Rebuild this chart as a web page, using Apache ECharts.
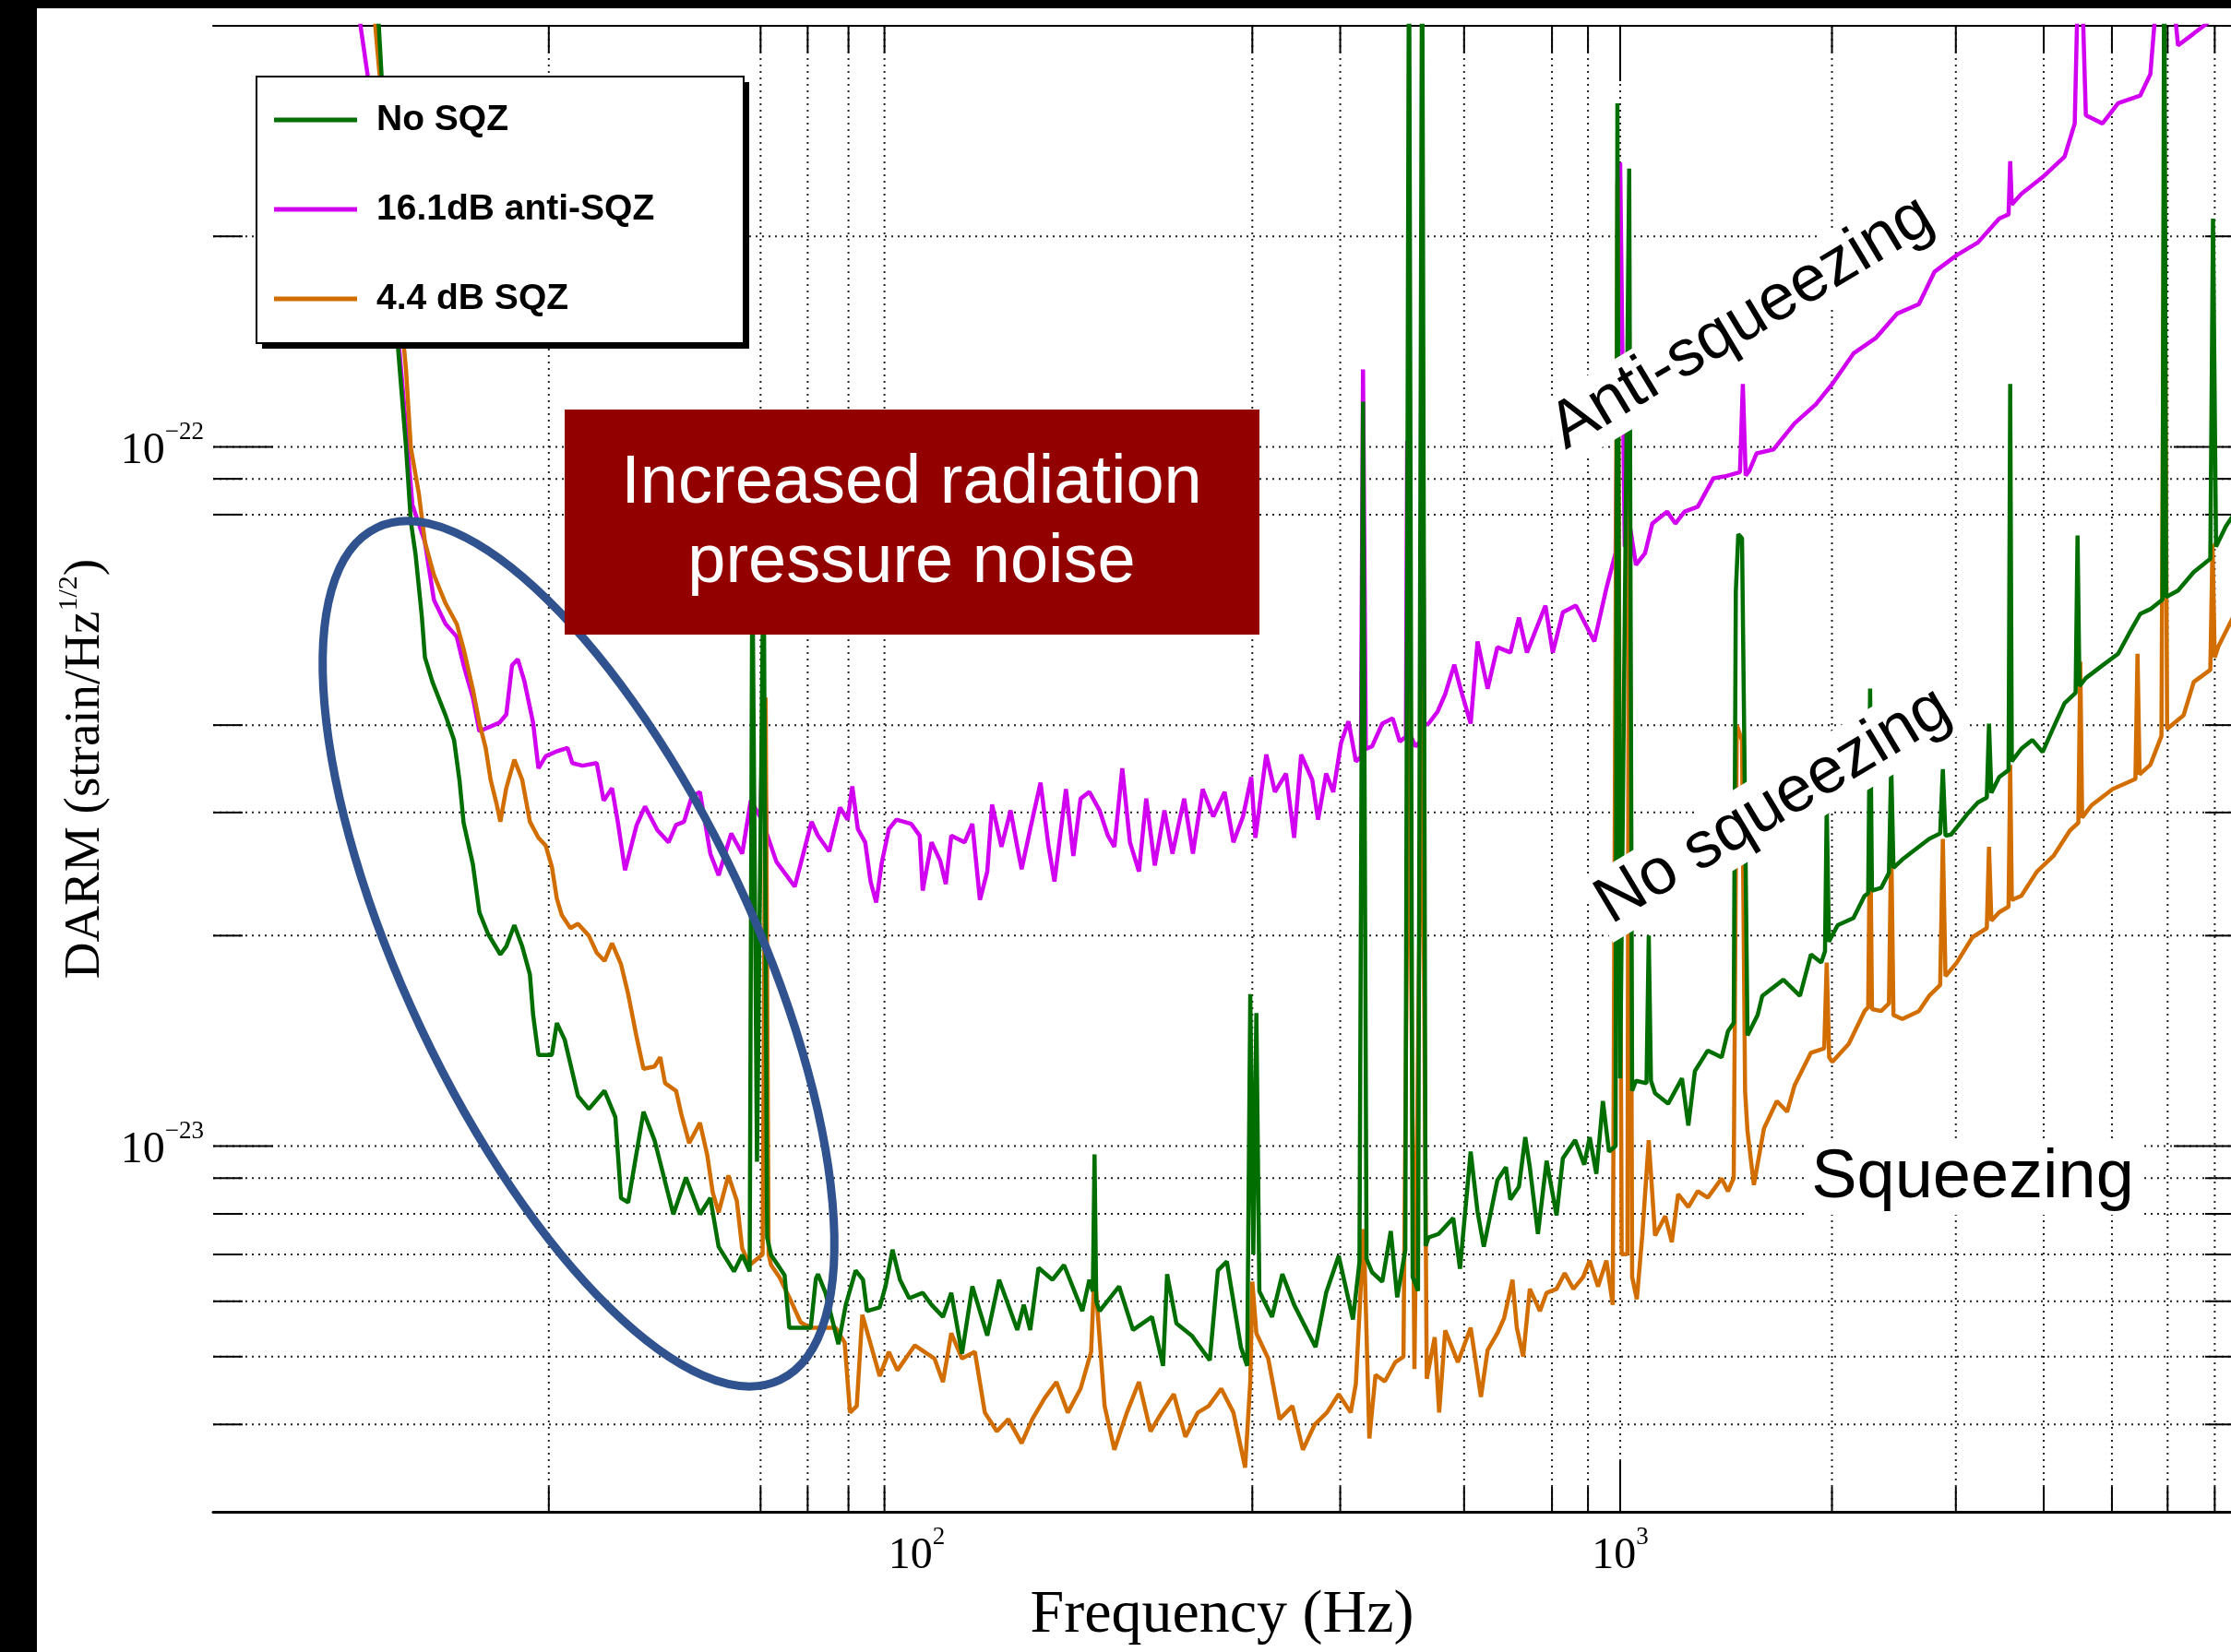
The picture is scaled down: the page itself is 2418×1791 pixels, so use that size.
<!DOCTYPE html>
<html lang="en">
<head>
<meta charset="UTF-8">
<title>DARM noise with and without squeezing</title>
<script src="https://cdn.jsdelivr.net/npm/echarts@6/dist/echarts.min.js"></script>
<style>
    html, body { margin: 0; padding: 0; background: #fff; }
    #main { width: 2418px; height: 1791px; }
</style>
</head>
<body>
<div id="main"></div>
<script>
    // strain ASD in units of 1e-24 /rtHz, frequency in Hz
    var noSqz = [
        [16.7, 500], [17.2, 400], [17.7, 237], [18.3, 140], [18.8, 100], [19.1, 78.2], [19.4, 70.1], [19.8, 57.2],
        [20.0, 50.0], [20.5, 46.1], [21.4, 41.3], [22.0, 38.1], [22.4, 33.3], [22.7, 29.0], [23.4, 25.3], [23.9, 21.6],
        [24.6, 20.1], [25.6, 18.8], [26.1, 19.3], [26.8, 20.7], [27.5, 19.3], [28.2, 17.6], [28.5, 15.4], [29.0, 13.5],
        [30.3, 13.5], [30.8, 15.0], [31.6, 14.2], [33.0, 11.8], [34.2, 11.3], [36.0, 12.0], [37.3, 11.0], [38.0, 8.43],
        [38.9, 8.31], [40.9, 11.2], [42.4, 10.2], [45.1, 7.99], [47.0, 9.02], [49.2, 7.99], [50.9, 8.43], [52.3, 7.18],
        [55.0, 6.62], [56.5, 6.99], [57.9, 6.62], [58.4, 70], [59.3, 9.5], [60.6, 72], [61.3, 7.4], [62.1, 6.99],
        [64.9, 6.54], [65.9, 5.50], [70.7, 5.50], [71.9, 6.46], [72.4, 6.56], [74.2, 6.17], [77.4, 5.21], [79.3, 5.93],
        [81.9, 6.64], [83.9, 6.44], [85.0, 5.81], [88.6, 5.88], [90.3, 6.30], [92.4, 7.11], [94.7, 6.44], [97.6, 6.06],
        [102, 6.17], [105, 5.93], [109, 5.70], [112, 6.17], [116, 5.05], [120, 6.30], [126, 5.36], [131, 6.44],
        [139, 5.46], [142, 5.93], [145, 5.46], [149, 6.70], [156, 6.44], [162, 6.76], [172, 5.81], [176, 6.44],
        [178, 6.2], [179, 9.73], [180, 6.0], [182, 5.81], [194, 6.30], [203, 5.46], [216, 5.70], [224, 4.85],
        [227, 6.56], [234, 5.58], [246, 5.36], [261, 4.94], [268, 6.64], [276, 6.84], [289, 5.16], [295, 4.85],
        [298, 16.5], [301, 7.0], [304, 15.5], [307, 6.2], [320, 5.70], [331, 6.56], [344, 5.93], [369, 5.16],
        [382, 6.17], [398, 6.97], [417, 5.65], [426, 6.82], [431, 116], [436, 6.9], [444, 6.60], [459, 6.40],
        [472, 7.56], [482, 6.08], [495, 7.10], [501, 600], [507, 6.5], [516, 6.21], [523, 600], [529, 7.2],
        [534, 7.40], [552, 7.49], [579, 7.89], [592, 6.68], [613, 9.82], [627, 8.06], [640, 7.18], [669, 8.94],
        [688, 9.33], [698, 8.39], [718, 8.75], [733, 10.3], [744, 9.33], [764, 7.49], [786, 9.53], [812, 7.96],
        [829, 9.61], [863, 10.2], [889, 9.41], [905, 10.3], [925, 9.13], [945, 11.6], [964, 9.82], [985, 10.0],
        [991, 310], [1000, 12.5], [1030, 250], [1040, 12.0], [1053, 12.4], [1090, 12.3], [1098, 20], [1106, 12.4],
        [1121, 11.9], [1170, 11.5], [1224, 12.5], [1250, 10.7], [1277, 12.8], [1332, 13.7], [1394, 13.4], [1423, 14.6],
        [1450, 15.0], [1460, 62], [1472, 75], [1490, 74], [1505, 30], [1517, 14.4], [1568, 15.4], [1592, 16.4],
        [1706, 17.3], [1801, 16.4], [1867, 18.8], [1931, 18.3], [1955, 19.0], [1966, 30.7], [1980, 19.6], [2038, 20.7],
        [2146, 21.2], [2225, 22.8], [2252, 23.0], [2266, 45.1], [2280, 23.2], [2349, 23.4], [2410, 24.6], [2428, 35.1],
        [2446, 25.0], [2518, 25.7], [2658, 26.8], [2749, 27.5], [2850, 28.0], [2875, 34.6], [2900, 27.8], [2954, 27.9],
        [3111, 29.8], [3225, 31.0], [3320, 31.5], [3344, 40.2], [3370, 32.0], [3457, 33.7], [3565, 34.5], [3584, 123],
        [3603, 35.5], [3717, 37.0], [3853, 38.1], [3985, 36.6], [4130, 39.7], [4282, 43.0], [4440, 44.5], [4468, 74.7],
        [4496, 45.5], [4591, 46.7], [4848, 48.7], [5103, 50.6], [5290, 54.1], [5486, 57.7], [5670, 58.6], [5900, 60.5],
        [5934, 600], [5970, 61.0], [6208, 62.3], [6535, 66.2], [6900, 69.2], [6961, 212], [7030, 72.0], [7261, 77.0],
        [7643, 83.1]
    ];

    var antiSqz = [
        [15.7, 590], [16.2, 400], [17.7, 216], [18.6, 121], [19.2, 82.6], [20.0, 73.1], [20.6, 60.4], [21.4, 55.8],
        [22.2, 53.5], [22.7, 48.7], [23.4, 43.8], [23.9, 39.2], [25.5, 40.3], [26.1, 41.4], [26.6, 48.7], [27.1, 49.7],
        [27.7, 46.2], [28.5, 40.3], [29.0, 34.7], [29.7, 36.1], [30.8, 36.7], [31.9, 37.1], [32.4, 35.3], [33.5, 35.0],
        [35.1, 35.3], [35.9, 31.2], [36.9, 32.5], [37.6, 29.1], [38.5, 24.8], [40.0, 28.8], [41.1, 30.6], [42.8, 28.3],
        [44.4, 27.2], [45.5, 28.8], [46.7, 29.1], [47.9, 31.6], [49.2, 32.1], [50.9, 26.2], [52.3, 24.4], [54.5, 28.0],
        [56.5, 26.2], [58.1, 31.2], [60.0, 29.5], [60.5, 44.3], [61.2, 28.0], [63.2, 25.5], [67.1, 23.5], [70.9, 29.1],
        [72.4, 27.8], [75.1, 26.4], [77.8, 30.5], [79.8, 29.3], [81.0, 32.7], [82.5, 28.4], [84.5, 27.2], [86.0, 23.9],
        [87.6, 22.3], [89.2, 25.4], [91.3, 28.4], [93.6, 29.3], [98.2, 28.9], [101, 27.8], [102, 23.2], [105, 27.2],
        [108, 25.6], [110, 23.7], [112, 27.8], [117, 27.2], [120, 28.9], [123, 22.5], [126, 24.7], [128, 30.8],
        [132, 26.8], [136, 30.2], [139, 26.8], [141, 24.9], [145, 28.4], [150, 33.1], [154, 26.8], [157, 23.9],
        [163, 32.4], [167, 26.0], [171, 31.4], [176, 32.1], [182, 30.2], [187, 27.8], [191, 26.8], [196, 34.7],
        [201, 27.2], [207, 24.7], [212, 31.4], [218, 25.2], [225, 30.2], [231, 26.2], [240, 31.4], [247, 26.2],
        [255, 32.4], [264, 29.6], [274, 32.1], [282, 27.2], [291, 29.6], [299, 33.7], [303, 27.6], [314, 36.3],
        [323, 32.1], [335, 34.1], [344, 27.6], [352, 36.3], [365, 33.4], [372, 29.3], [382, 34.1], [391, 32.1],
        [401, 37.7], [411, 40.5], [421, 35.5], [428, 36.0], [431, 129], [435, 37.0], [444, 37.3], [459, 40.2],
        [475, 40.9], [486, 37.9], [496, 38.5], [498, 102], [501, 39.0], [512, 37.3], [521, 38.0], [524, 103],
        [527, 40.0], [534, 40.2], [550, 41.8], [564, 44.3], [581, 48.8], [593, 45.1], [613, 40.2], [627, 52.7],
        [648, 45.1], [669, 51.7], [698, 50.8], [718, 57.0], [737, 50.8], [783, 59.3], [802, 50.8], [829, 58.0],
        [865, 59.3], [919, 52.7], [956, 62.8], [985, 70.5], [1000, 255], [1015, 72.0], [1031, 77.7], [1053, 67.8],
        [1085, 70.5], [1111, 77.7], [1166, 80.8], [1198, 77.7], [1235, 80.8], [1289, 82.1], [1357, 90.2], [1407, 90.7],
        [1480, 92.0], [1494, 123], [1508, 91.0], [1526, 92.4], [1563, 97.9], [1651, 99.1], [1769, 108], [1897, 115],
        [2002, 123], [2146, 136], [2307, 143], [2474, 155], [2658, 160], [2798, 178], [3009, 188], [3225, 196],
        [3457, 212], [3565, 215], [3584, 256], [3603, 222], [3717, 230], [3985, 243], [4282, 260], [4427, 290],
        [4500, 600], [4591, 298], [4848, 290], [5103, 310], [5486, 318], [5670, 341], [5934, 600], [6208, 375],
        [6535, 390], [6775, 401], [7195, 422], [7600, 450]
    ];

    var sqz = [
        [16.5, 589], [17.0, 400], [17.8, 237], [18.8, 129], [19.1, 99.7], [19.6, 85.9], [20.0, 73.1], [20.6, 65.6],
        [21.4, 59.7], [22.2, 55.8], [22.7, 51.4], [23.4, 45.0], [23.9, 40.3], [24.4, 37.1], [24.8, 33.4], [25.3, 30.8],
        [25.6, 29.1], [26.1, 32.5], [26.8, 35.7], [27.5, 33.4], [28.2, 29.1], [29.0, 27.6], [29.7, 26.9], [30.3, 25.1],
        [30.8, 22.6], [31.3, 21.4], [32.2, 20.5], [33.0, 20.8], [34.2, 20.0], [35.1, 18.9], [36.0, 18.4], [36.9, 19.5],
        [38.0, 18.2], [38.9, 16.5], [40.0, 14.3], [40.9, 12.9], [42.4, 13.0], [43.2, 13.4], [43.9, 12.3], [45.5, 12.0],
        [46.3, 11.1], [47.5, 10.1], [49.2, 10.8], [50.4, 9.70], [51.3, 8.59], [52.3, 8.04], [54.0, 9.08], [55.5, 8.36],
        [56.5, 7.14], [57.9, 6.76], [60.4, 7.0], [61.0, 43.8], [61.6, 7.0], [62.1, 6.76], [63.8, 6.50], [65.9, 6.08],
        [68.4, 5.60], [70.5, 5.50], [76.7, 5.50], [79.0, 5.24], [80.4, 4.16], [82.2, 4.25], [83.7, 5.74], [88.6, 4.69],
        [91.3, 5.08], [93.9, 4.78], [99.4, 5.19], [106, 4.97], [109, 4.60], [112, 5.40], [116, 4.97], [121, 5.08],
        [125, 4.16], [130, 3.91], [135, 4.07], [141, 3.76], [146, 4.07], [152, 4.36], [158, 4.60], [164, 4.16],
        [171, 4.50], [177, 5.08], [179, 6.64], [185, 4.25], [191, 3.68], [199, 4.16], [207, 4.60], [215, 3.91],
        [223, 4.16], [232, 4.42], [241, 3.84], [251, 4.16], [260, 4.25], [271, 4.50], [282, 4.16], [293, 3.47],
        [298, 4.60], [300, 6.40], [304, 5.40], [316, 4.97], [328, 4.07], [342, 4.25], [354, 3.68], [368, 4.00],
        [383, 4.16], [398, 4.42], [414, 4.16], [421, 4.57], [432, 7.61], [440, 3.82], [449, 4.71], [463, 4.61],
        [479, 4.91], [492, 5.00], [501, 45], [510, 4.80], [523, 45], [531, 4.65], [545, 5.33], [553, 4.16],
        [564, 5.45], [588, 4.91], [613, 5.50], [634, 4.38], [648, 5.11], [669, 5.40], [684, 5.68], [703, 6.44],
        [713, 5.50], [728, 5.00], [744, 6.25], [769, 5.81], [786, 6.17], [812, 6.25], [834, 6.58], [858, 6.25],
        [886, 6.50], [905, 6.86], [930, 6.30], [956, 6.86], [976, 5.93], [991, 240], [1005, 7.00], [1024, 7.01],
        [1030, 150], [1040, 6.50], [1056, 6.04], [1075, 7.45], [1098, 10.2], [1121, 7.45], [1159, 7.94], [1184, 7.29],
        [1209, 8.54], [1250, 8.18], [1289, 8.62], [1332, 8.44], [1394, 8.99], [1423, 8.62], [1450, 9.00], [1465, 40],
        [1490, 38], [1505, 12], [1517, 10.5], [1549, 8.80], [1601, 10.6], [1670, 11.6], [1727, 11.2], [1769, 12.2],
        [1867, 13.6], [1950, 13.8], [1966, 18.3], [1982, 13.4], [2002, 13.2], [2113, 14.0], [2225, 15.6], [2252, 15.8],
        [2266, 30.2], [2280, 15.7], [2349, 15.6], [2410, 16.0], [2428, 27.5], [2446, 15.4], [2518, 15.2], [2658, 15.6],
        [2749, 16.4], [2850, 17.0], [2875, 27.5], [2900, 17.5], [3009, 18.3], [3168, 19.9], [3320, 20.5], [3344, 26.8],
        [3370, 21.0], [3457, 21.6], [3565, 22.0], [3584, 35.1], [3603, 22.5], [3717, 22.8], [3912, 24.7], [4130, 26.0],
        [4361, 28.3], [4480, 29.0], [4508, 49.3], [4536, 29.5], [4674, 30.7], [5011, 32.4], [5400, 33.5], [5437, 50.6],
        [5474, 34.0], [5670, 35.1], [5880, 38.6], [5934, 300], [5990, 39.5], [6321, 41.3], [6535, 46.1], [6900, 48.0],
        [6950, 72.7], [7000, 50.0], [7088, 51.9], [7530, 58.6]
    ];

    // grid lines that survive in the picture (Hz, and 1e-24 units)
    var xGridHz = [30, 60, 70, 80, 90, 300, 400, 600, 800, 900, 1000, 2000, 3000, 4000, 5000, 6000, 7000];
    var yGridVals = [200, 100, 90, 80, 40, 30, 20, 10, 9, 8, 7, 6, 5, 4];
    var xMajor = [1000];
    var yMajor = [100, 10];

    var serif = '"Liberation Serif", "DejaVu Serif", serif';
    var sans = '"Liberation Sans", Arial, sans-serif';

    function expOf(v) {
        var e = Math.log10(v);
        var r = Math.round(e);
        return Math.abs(e - r) < 1e-6 ? r : null;
    }

    var tickRich = {
        m: { fontSize: 48, fontFamily: serif, color: '#000', lineHeight: 58, verticalAlign: 'bottom' },
        s: { fontSize: 27, fontFamily: serif, color: '#000', lineHeight: 27, verticalAlign: 'top' }
    };

    function vGrid(params, api) {
        var cs = params.coordSys;
        var x = api.coord([api.value(0), api.value(1)])[0];
        var big = api.value(2) === 1;
        var bot = cs.y + cs.height;
        return {
            type: 'group',
            children: [
                { type: 'line', shape: { x1: x, y1: cs.y, x2: x, y2: bot },
                  style: { stroke: '#222', lineWidth: 2, lineDash: [2, 5] } },
                { type: 'line', shape: { x1: x, y1: bot, x2: x, y2: bot - (big ? 55 : 27) },
                  style: { stroke: '#000', lineWidth: 2 } },
                { type: 'line', shape: { x1: x, y1: cs.y, x2: x, y2: cs.y + (big ? 60 : 29) },
                  style: { stroke: '#000', lineWidth: 2 } }
            ]
        };
    }

    function hGrid(params, api) {
        var cs = params.coordSys;
        var y = api.coord([api.value(0), api.value(1)])[1];
        var big = api.value(2) === 1;
        var right = cs.x + cs.width;
        return {
            type: 'group',
            children: [
                { type: 'line', shape: { x1: cs.x, y1: y, x2: right, y2: y },
                  style: { stroke: '#222', lineWidth: 2, lineDash: [2, 5] } },
                { type: 'line', shape: { x1: cs.x, y1: y, x2: cs.x + (big ? 65 : 32), y2: y },
                  style: { stroke: '#000', lineWidth: 2 } },
                { type: 'line', shape: { x1: right, y1: y, x2: right - (big ? 62 : 28), y2: y },
                  style: { stroke: '#000', lineWidth: 2 } }
            ]
        };
    }

    var chart = echarts.init(document.getElementById('main'), null, { renderer: 'canvas' });

    var option = {
        animation: false,
        backgroundColor: '#fff',
        grid: { left: 231, top: 28, right: 0, bottom: 152, outerBoundsMode: 'none' },
        legend: {
            data: ['No SQZ', '16.1dB anti-SQZ', '4.4 dB SQZ'],
            orient: 'vertical',
            left: 297,
            top: 110,
            padding: 0,
            itemGap: 57,
            itemWidth: 90,
            itemHeight: 5,
            icon: 'rect',
            selectedMode: false,
            z: 200,
            textStyle: {
                fontSize: 39, fontWeight: 'bold', fontFamily: sans, color: '#000',
                lineHeight: 40, padding: [0, 0, 0, 16]
            }
        },
        xAxis: [{
            type: 'log', logBase: 10, min: 10, max: 7383, position: 'bottom',
            axisLine: { show: true, onZero: false, lineStyle: { color: '#000', width: 3 } },
            axisTick: { show: false },
            splitLine: { show: false },
            axisLabel: {
                margin: 14,
                rich: tickRich,
                formatter: function (v) {
                    var r = expOf(v);
                    return r !== null && r >= 2 ? '{m|10}{s|' + r + '}' : '';
                }
            },
            name: 'Frequency (Hz)',
            nameLocation: 'middle',
            nameGap: 80,
            nameTextStyle: { fontSize: 66, fontFamily: serif, color: '#000' }
        }, {
            type: 'log', logBase: 10, min: 10, max: 7383, position: 'top',
            axisLine: { show: true, onZero: false, lineStyle: { color: '#000', width: 2 } },
            axisTick: { show: false },
            axisLabel: { show: false },
            splitLine: { show: false }
        }],
        yAxis: [{
            type: 'log', logBase: 10, min: 3, max: 400,
            axisLine: { show: false },
            axisTick: { show: false },
            splitLine: { show: false },
            axisLabel: {
                margin: 10,
                rich: tickRich,
                formatter: function (v) {
                    var r = expOf(v);
                    return r !== null ? '{m|10}{s|\u2212' + (24 - r) + '}' : '';
                }
            },
            name: '{n|DARM (strain/Hz}{s|1/2}{n|)}',
            nameLocation: 'middle',
            nameRotate: 90,
            nameGap: 109,
            nameTextStyle: {
                rich: {
                    n: { fontSize: 55, fontFamily: serif, color: '#000', lineHeight: 60, verticalAlign: 'bottom' },
                    s: { fontSize: 30, fontFamily: serif, color: '#000', lineHeight: 30, verticalAlign: 'top' }
                }
            }
        }],
        series: [
            {
                type: 'custom', name: 'xgrid', z: 1, silent: true,
                renderItem: vGrid,
                data: xGridHz.map(function (f) { return [f, 10, xMajor.indexOf(f) >= 0 ? 1 : 0]; })
            },
            {
                type: 'custom', name: 'ygrid', z: 1, silent: true,
                renderItem: hGrid,
                data: yGridVals.map(function (v) { return [100, v, yMajor.indexOf(v) >= 0 ? 1 : 0]; })
            },
            {
                name: '16.1dB anti-SQZ', type: 'line', data: antiSqz, symbol: 'none', z: 2,
                color: '#d200f0', lineStyle: { color: '#d200f0', width: 4.5 }
            },
            {
                name: '4.4 dB SQZ', type: 'line', data: sqz, symbol: 'none', z: 2,
                color: '#d26e00', lineStyle: { color: '#d26e00', width: 4.5 }
            },
            {
                name: 'No SQZ', type: 'line', data: noSqz, symbol: 'none', z: 2,
                color: '#006e00', lineStyle: { color: '#006e00', width: 4.5 }
            }
        ],
        graphic: {
            elements: [
                // legend frame with its drop shadow
                { type: 'rect', z: 150, shape: { x: 284, y: 89, width: 528, height: 289 }, style: { fill: '#000' } },
                { type: 'rect', z: 151, shape: { x: 278, y: 83, width: 528, height: 289 },
                  style: { fill: '#fff', stroke: '#000', lineWidth: 2 } },
                // annotation box
                { type: 'rect', z: 120, shape: { x: 612, y: 444, width: 753, height: 244 }, style: { fill: '#930000' } },
                { type: 'text', z: 121, x: 988, y: 568,
                  style: { text: 'Increased radiation\npressure noise', fill: '#fff', font: '74px ' + sans,
                           align: 'center', verticalAlign: 'middle', lineHeight: 86 } },
                { type: 'ellipse', z: 110, x: 627, y: 1034, rotation: -64.7 * Math.PI / 180,
                  shape: { cx: 0, cy: 0, rx: 511, ry: 189 },
                  style: { fill: 'none', stroke: '#30528f', lineWidth: 9 } },
                { type: 'text', z: 115, x: 1888, y: 350, rotation: 31 * Math.PI / 180,
                  style: { text: 'Anti-squeezing', fill: '#000', font: '71px ' + sans, align: 'center',
                           verticalAlign: 'middle', backgroundColor: '#fff', padding: [2, 8] } },
                { type: 'text', z: 115, x: 1922, y: 874, rotation: 31 * Math.PI / 180,
                  style: { text: 'No squeezing', fill: '#000', font: '71px ' + sans, align: 'center',
                           verticalAlign: 'middle', backgroundColor: '#fff', padding: [2, 8] } },
                { type: 'text', z: 115, x: 2138, y: 1278,
                  style: { text: 'Squeezing', fill: '#000', font: '74px ' + sans, align: 'center',
                           verticalAlign: 'middle', backgroundColor: '#fff', padding: [2, 8] } },
                // black page border of the slide
                { type: 'rect', z: 300, shape: { x: 0, y: 0, width: 40, height: 1791 }, style: { fill: '#000' } },
                { type: 'rect', z: 300, shape: { x: 0, y: 0, width: 2418, height: 9 }, style: { fill: '#000' } }
            ]
        }
    };

    chart.setOption(option);
</script>
</body>
</html>
